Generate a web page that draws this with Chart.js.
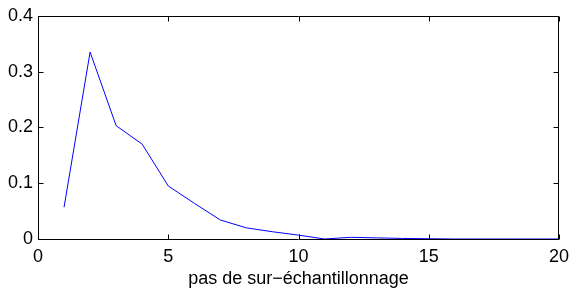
<!DOCTYPE html>
<html>
<head>
<meta charset="utf-8">
<script src="https://cdn.jsdelivr.net/npm/chart.js@4"></script>
<style>
html,body{margin:0;padding:0;background:#fff;}
canvas{display:block;}
</style>
</head>
<body>
<canvas id="c" width="570" height="290"></canvas>
<script>
const steps = [1,2,3,4,5,6,7,8,9,10,11,12,13,14,15,16,17,18,19,20];
const values = [0.057,0.335,0.203,0.170,0.095,0.064,0.034,0.020,0.013,0.007,0.000,0.003,0.002,0.001,0.0005,0,0,0,0,0];
const xTicks = [0,5,10,15,20];
const yTicks = [0,0.1,0.2,0.3,0.4];
const xLabel = "pas de sur\u2212échantillonnage";

const FONT = {family: "'Liberation Sans', Arial, Helvetica, sans-serif", size: 18};

const boxTicks = {
  id: 'boxTicks',
  afterDraw(chart) {
    const {ctx, chartArea: a, scales: {x, y}} = chart;
    const L = Math.round(a.left) + 0.5, R = Math.round(a.right) - 0.5;
    const T = Math.round(a.top) + 0.5, B = Math.round(a.bottom) + 0.5;
    const tl = 5;
    ctx.save();
    ctx.strokeStyle = '#000';
    ctx.lineWidth = 1;
    ctx.beginPath();
    ctx.rect(L, T, R - L, B - T);
    ctx.stroke();
    ctx.beginPath();
    xTicks.forEach(v => {
      const px = Math.round(x.getPixelForValue(v)) + 0.5;
      ctx.moveTo(px, B); ctx.lineTo(px, B - tl);
      ctx.moveTo(px, T); ctx.lineTo(px, T + tl);
    });
    yTicks.forEach(v => {
      const py = Math.round(y.getPixelForValue(v)) + 0.5;
      ctx.moveTo(L, py); ctx.lineTo(L + tl, py);
      ctx.moveTo(R, py); ctx.lineTo(R - tl, py);
    });
    ctx.stroke();
    ctx.restore();
  }
};

new Chart(document.getElementById('c'), {
  type: 'line',
  data: {
    datasets: [{
      data: steps.map((s, i) => ({x: s, y: values[i]})),
      borderColor: '#0000ff',
      borderWidth: 1,
      pointRadius: 0,
      tension: 0,
      fill: false
    }]
  },
  options: {
    responsive: false,
    animation: false,
    devicePixelRatio: 1,
    layout: {padding: {top: 15, right: 11, left: 0, bottom: 0}},
    plugins: {legend: {display: false}, tooltip: {enabled: false}},
    scales: {
      x: {
        type: 'linear', min: 0, max: 20,
        afterBuildTicks: s => { s.ticks = xTicks.map(v => ({value: v})); },
        afterFit: s => { s.height = 51; s.paddingLeft = 0; s.paddingRight = 0; },
        grid: {display: false, drawTicks: false},
        border: {display: false},
        ticks: {color: '#000', font: FONT, padding: 7, maxRotation: 0, callback: v => String(v)},
        title: {display: true, text: xLabel, color: '#000', font: FONT, padding: {top: 0, bottom: 0}}
      },
      y: {
        type: 'linear', min: 0, max: 0.4,
        afterBuildTicks: s => { s.ticks = yTicks.map(v => ({value: v})); },
        afterFit: s => { s.width = 38; },
        grid: {display: false, drawTicks: false},
        border: {display: false},
        ticks: {color: '#000', font: FONT, padding: 5, callback: v => (Math.round(v * 10) / 10).toString()}
      }
    }
  },
  plugins: [boxTicks]
});
</script>
</body>
</html>
